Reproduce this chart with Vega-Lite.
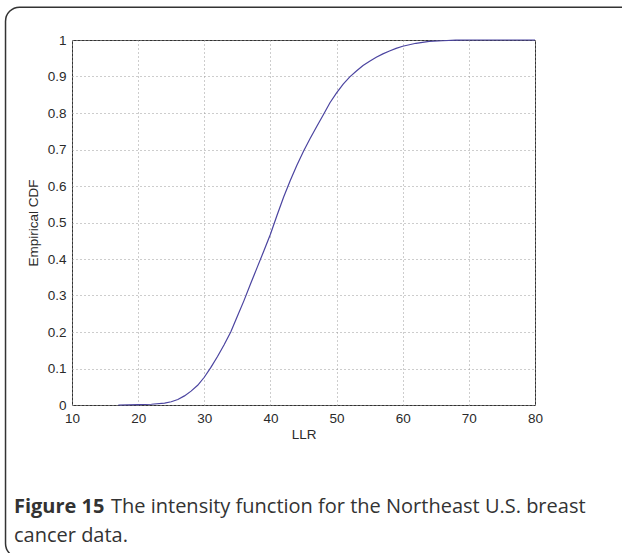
{
  "$schema": "https://vega.github.io/schema/vega-lite/v6.json",
  "autosize": "none",
  "width": 463,
  "height": 365,
  "padding": {"left": 72, "top": 40, "right": 87, "bottom": 148},
  "background": "white",
  "config": {
    "view": {"stroke": "#333333", "strokeWidth": 1},
    "axis": {"labelFont": "Liberation Sans", "titleFont": "Liberation Sans", "labelColor": "#2a2a2a", "titleColor": "#2a2a2a", "labelFontSize": 13.5, "titleFontSize": 13.5, "titleFontWeight": "normal", "domain": false, "ticks": false, "gridColor": "#9a9a9a", "gridDash": [1, 3], "gridWidth": 1, "labelFlush": false, "labelOverlap": false}
  },
  "datasets": {
    "cdf": [
      {"llr": 17, "p": 0},
      {"llr": 20, "p": 0.001},
      {"llr": 22, "p": 0.002},
      {"llr": 24, "p": 0.005},
      {"llr": 25, "p": 0.009},
      {"llr": 26, "p": 0.015},
      {"llr": 27, "p": 0.025},
      {"llr": 28, "p": 0.038},
      {"llr": 29, "p": 0.054},
      {"llr": 30, "p": 0.076},
      {"llr": 31, "p": 0.103},
      {"llr": 32, "p": 0.133},
      {"llr": 33, "p": 0.165},
      {"llr": 34, "p": 0.2},
      {"llr": 35, "p": 0.243},
      {"llr": 36, "p": 0.286},
      {"llr": 37, "p": 0.332},
      {"llr": 38, "p": 0.377},
      {"llr": 39, "p": 0.422},
      {"llr": 40, "p": 0.468},
      {"llr": 41, "p": 0.52},
      {"llr": 42, "p": 0.57},
      {"llr": 43, "p": 0.615},
      {"llr": 44, "p": 0.657},
      {"llr": 45, "p": 0.695},
      {"llr": 46, "p": 0.73},
      {"llr": 47, "p": 0.763},
      {"llr": 48, "p": 0.795},
      {"llr": 49, "p": 0.828},
      {"llr": 50, "p": 0.855},
      {"llr": 51, "p": 0.879},
      {"llr": 52, "p": 0.899},
      {"llr": 53, "p": 0.915},
      {"llr": 54, "p": 0.93},
      {"llr": 55, "p": 0.942},
      {"llr": 56, "p": 0.953},
      {"llr": 57, "p": 0.962},
      {"llr": 58, "p": 0.97},
      {"llr": 59, "p": 0.977},
      {"llr": 60, "p": 0.983},
      {"llr": 62, "p": 0.991},
      {"llr": 64, "p": 0.996},
      {"llr": 66, "p": 0.998},
      {"llr": 68, "p": 0.9995},
      {"llr": 70, "p": 1},
      {"llr": 80, "p": 1}
    ],
    "one": [{"k": 1}]
  },
  "layer": [
    {
      "data": {"name": "cdf"},
      "mark": {"type": "line", "color": "#4b44a0", "strokeWidth": 1.2},
      "encoding": {
        "x": {"field": "llr", "type": "quantitative", "title": "LLR",
          "scale": {"domain": [10, 80], "nice": false, "zero": false},
          "axis": {"values": [10, 20, 30, 40, 50, 60, 70, 80], "labelPadding": 6, "titlePadding": 3, "grid": true}},
        "y": {"field": "p", "type": "quantitative", "title": "Empirical CDF",
          "scale": {"domain": [0, 1], "nice": false},
          "axis": {"values": [0, 0.1, 0.2, 0.3, 0.4, 0.5, 0.6, 0.7, 0.8, 0.9, 1], "format": "~g", "labelPadding": 6, "titlePadding": 7, "grid": true}}
      }
    },
    {
      "data": {"name": "one"},
      "mark": {"type": "rect", "fill": null, "stroke": "#333333", "strokeWidth": 1.5, "cornerRadius": 14, "clip": false},
      "encoding": {
        "x": {"datum": -0.05, "type": "quantitative", "title": "LLR",
          "axis": {"values": [10, 20, 30, 40, 50, 60, 70, 80], "labelPadding": 6, "titlePadding": 3, "grid": true}},
        "x2": {"datum": 100},
        "y": {"datum": 1.09, "type": "quantitative", "title": "Empirical CDF",
          "axis": {"values": [0, 0.1, 0.2, 0.3, 0.4, 0.5, 0.6, 0.7, 0.8, 0.9, 1], "format": "~g", "labelPadding": 6, "titlePadding": 7, "grid": true}},
        "y2": {"datum": -0.418}
      }
    },
    {
      "data": {"name": "one"},
      "mark": {"type": "text", "text": "Figure 15", "font": "Open Sans", "fontSize": 20, "fontWeight": "bold", "color": "#333333", "align": "left", "baseline": "alphabetic", "clip": false},
      "encoding": {
        "x": {"datum": 1.23, "type": "quantitative", "title": "LLR",
          "axis": {"values": [10, 20, 30, 40, 50, 60, 70, 80], "labelPadding": 6, "titlePadding": 3, "grid": true}},
        "y": {"datum": -0.296, "type": "quantitative", "title": "Empirical CDF",
          "axis": {"values": [0, 0.1, 0.2, 0.3, 0.4, 0.5, 0.6, 0.7, 0.8, 0.9, 1], "format": "~g", "labelPadding": 6, "titlePadding": 7, "grid": true}}
      }
    },
    {
      "data": {"name": "one"},
      "mark": {"type": "text", "text": "The intensity function for the Northeast U.S. breast", "font": "Open Sans", "fontSize": 20, "color": "#333333", "align": "left", "baseline": "alphabetic", "dx": 97, "clip": false},
      "encoding": {
        "x": {"datum": 1.23, "type": "quantitative", "title": "LLR",
          "axis": {"values": [10, 20, 30, 40, 50, 60, 70, 80], "labelPadding": 6, "titlePadding": 3, "grid": true}},
        "y": {"datum": -0.296, "type": "quantitative", "title": "Empirical CDF",
          "axis": {"values": [0, 0.1, 0.2, 0.3, 0.4, 0.5, 0.6, 0.7, 0.8, 0.9, 1], "format": "~g", "labelPadding": 6, "titlePadding": 7, "grid": true}}
      }
    },
    {
      "data": {"name": "one"},
      "mark": {"type": "text", "text": "cancer data.", "font": "Open Sans", "fontSize": 20, "color": "#333333", "align": "left", "baseline": "alphabetic", "clip": false},
      "encoding": {
        "x": {"datum": 1.23, "type": "quantitative", "title": "LLR",
          "axis": {"values": [10, 20, 30, 40, 50, 60, 70, 80], "labelPadding": 6, "titlePadding": 3, "grid": true}},
        "y": {"datum": -0.375, "type": "quantitative", "title": "Empirical CDF",
          "axis": {"values": [0, 0.1, 0.2, 0.3, 0.4, 0.5, 0.6, 0.7, 0.8, 0.9, 1], "format": "~g", "labelPadding": 6, "titlePadding": 7, "grid": true}}
      }
    }
  ]
}
